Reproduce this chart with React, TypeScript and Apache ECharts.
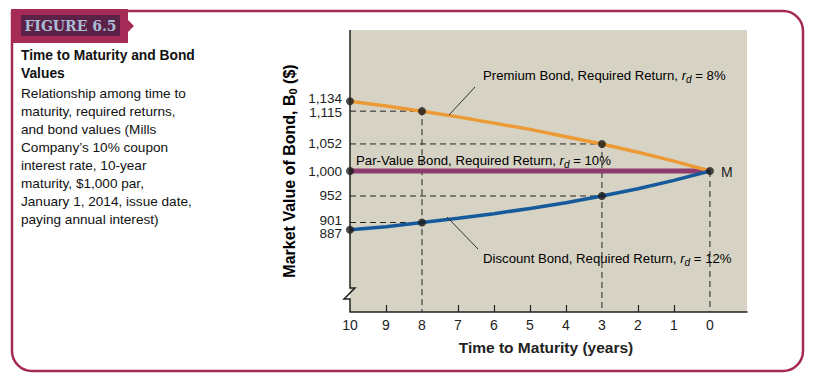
import React, { useEffect, useRef } from "react";
import * as echarts from "echarts";

// ---- data ----
const years = [10, 9, 8, 7, 6, 5, 4, 3, 2, 1, 0];
const premiumValues = [1134, 1125, 1115, 1104, 1092, 1080, 1066, 1052, 1036, 1019, 1000];
const parValues = [1000, 1000, 1000, 1000, 1000, 1000, 1000, 1000, 1000, 1000, 1000];
const discountValues = [887, 893, 901, 909, 918, 928, 939, 952, 966, 982, 1000];
const yTickLabelsA = [901, 952, 1000, 1052, 1115];
const yTickLabelsB = [887, 1134];
const xTickLabels = [10, 9, 8, 7, 6, 5, 4, 3, 2, 1, 0];
const markedYears = [8, 3];
const Y_MIN = 729;
const Y_MAX = 1271;

const SANS = "'Liberation Sans', Arial, sans-serif";
const DARK = "#222";
const FRAME = "#a52a55";

const at = (arr: number[], yr: number) => arr[years.indexOf(yr)];

// small vertical nudges (px) for tightly packed tick labels: positive = up
const labelNudge: Record<number, number> = { 1134: 3, 1115: -1, 901: 2.5, 887: -4 };

export default function App() {
  const ref = useRef<HTMLDivElement>(null);
  useEffect(() => {
    const chart = echarts.init(ref.current!, null, { renderer: "svg" });

    const guides: any[] = [];
    markedYears.forEach((yr) => {
      guides.push([[10, at(premiumValues, yr)], [yr, at(premiumValues, yr)], [yr, Y_MIN]]);
      guides.push([[10, at(discountValues, yr)], [yr, at(discountValues, yr)]]);
    });
    guides.push([[0, at(parValues, 0)], [0, Y_MIN]]);

    const dots: number[][] = [];
    [10, ...markedYears].forEach((yr) => {
      dots.push([yr, at(premiumValues, yr)]);
      dots.push([yr, at(discountValues, yr)]);
    });
    dots.push([10, at(parValues, 10)]);
    dots.push([0, at(parValues, 0)]);

    const guideSeries = guides.map((g) => ({
      type: "line",
      data: g,
      symbol: "none",
      silent: true,
      z: 1,
      lineStyle: { color: DARK, width: 1, type: [6, 4] },
    }));

    const rdRich = {
      n: { fontFamily: SANS, fontSize: 13.2, color: DARK, lineHeight: 18 },
      i: { fontFamily: SANS, fontSize: 13.2, color: DARK, fontStyle: "italic", lineHeight: 18 },
      s: { fontFamily: SANS, fontSize: 10, color: DARK, fontStyle: "italic", lineHeight: 10, verticalAlign: "bottom" },
    };

    const tickBase = { fontFamily: SANS, fontSize: 13.5, color: DARK, lineHeight: 13 };
    const tickRich: any = { n: { ...tickBase } };
    Object.keys(labelNudge).forEach((k) => {
      const d = labelNudge[+k];
      tickRich["v" + k] = {
        ...tickBase,
        padding: d > 0 ? [0, 0, 2 * d, 0] : [-2 * d, 0, 0, 0],
      };
    });

    const yLabel = (vals: number[]) => ({
      customValues: vals,
      hideOverlap: false,
      margin: 8,
      fontFamily: SANS,
      fontSize: 13.5,
      color: DARK,
      rich: tickRich,
      formatter: (v: number) => {
        const s = v.toLocaleString("en-US");
        return labelNudge[v] !== undefined ? `{v${v}|${s}}` : `{n|${s}}`;
      },
    });

    const option: any = {
      animation: false,
      backgroundColor: "#fff",
      grid: {
        left: 350,
        top: 30,
        width: 397,
        height: 282,
        show: true,
        backgroundColor: "#d6d3c4",
        borderWidth: 0,
      },
      xAxis: {
        type: "value",
        inverse: true,
        min: -1.03,
        max: 10,
        splitLine: { show: false },
        axisLine: { show: true, onZero: false, lineStyle: { color: DARK, width: 1.5 } },
        axisTick: {
          show: true,
          inside: true,
          length: 7,
          customValues: [1, 2, 4, 5, 6, 7, 9],
          lineStyle: { color: DARK, width: 1.2 },
        },
        axisLabel: {
          customValues: xTickLabels,
          margin: 6,
          fontFamily: SANS,
          fontSize: 14,
          color: DARK,
        },
      },
      yAxis: [
        {
          type: "value",
          min: Y_MIN,
          max: Y_MAX,
          position: "left",
          splitLine: { show: false },
          axisLine: { show: false },
          axisTick: { show: false },
          axisLabel: yLabel(yTickLabelsA),
        },
        {
          type: "value",
          min: Y_MIN,
          max: Y_MAX,
          position: "left",
          offset: 0,
          splitLine: { show: false },
          axisLine: { show: false },
          axisTick: { show: false },
          axisLabel: yLabel(yTickLabelsB),
        },
      ],
      series: [
        ...guideSeries,
        {
          type: "line",
          name: "Par",
          data: years.map((y, i) => [y, parValues[i]]),
          symbol: "none",
          z: 3,
          lineStyle: { color: "#8e3c70", width: 5 },
        },
        {
          type: "line",
          name: "Premium",
          data: years.map((y, i) => [y, premiumValues[i]]),
          symbol: "none",
          z: 3,
          lineStyle: { color: "#ec9a35", width: 3.5 },
        },
        {
          type: "line",
          name: "Discount",
          data: years.map((y, i) => [y, discountValues[i]]),
          symbol: "none",
          z: 3,
          lineStyle: { color: "#175a9c", width: 3.5 },
        },
        {
          type: "scatter",
          data: dots,
          symbolSize: 8,
          z: 5,
          itemStyle: { color: "#1a1a1a" },
        },
      ],
      graphic: [
        // frame
        {
          type: "rect",
          z: 100,
          shape: { x: 12, y: 11, width: 791, height: 360, r: [0, 20, 20, 20] },
          style: { fill: "none", stroke: FRAME, lineWidth: 2.5 },
        },
        {
          type: "rect",
          z: 101,
          shape: { x: 11, y: 9, width: 117, height: 34 },
          style: { fill: FRAME },
        },
        {
          type: "polygon",
          z: 101,
          shape: { points: [[128, 20], [134, 26], [128, 32]] },
          style: { fill: FRAME },
        },
        {
          type: "rect",
          z: 102,
          shape: { x: 21, y: 15, width: 99, height: 21 },
          style: { fill: "#5b2147" },
        },
        {
          type: "text",
          z: 103,
          x: 70.5,
          y: 26,
          style: {
            text: "FIGURE 6.5",
            fill: "#a9bdd6",
            font: "bold 14px 'DejaVu Serif', serif",
            align: "center",
            verticalAlign: "middle",
          },
        },
        // left description
        {
          type: "text",
          z: 100,
          x: 21,
          y: 46,
          style: {
            text: "Time to Maturity and Bond\nValues",
            fill: "#111",
            font: `bold 13.8px ${SANS}`,
            lineHeight: 18,
            align: "left",
            verticalAlign: "top",
          },
        },
        {
          type: "text",
          z: 100,
          x: 21,
          y: 84,
          style: {
            text:
              "Relationship among time to\nmaturity, required returns,\nand bond values (Mills\nCompany’s 10% coupon\ninterest rate, 10-year\nmaturity, $1,000 par,\nJanuary 1, 2014, issue date,\npaying annual interest)",
            fill: "#111",
            font: `13.6px ${SANS}`,
            lineHeight: 18,
            align: "left",
            verticalAlign: "top",
          },
        },
        // y axis line with break
        {
          type: "polyline",
          z: 50,
          shape: {
            points: [[350, 30], [350, 288], [355, 288], [344, 299], [350, 299], [350, 312]],
          },
          style: { stroke: DARK, lineWidth: 1.5, fill: "none" },
        },
        // y-axis title
        {
          type: "text",
          z: 100,
          x: 289,
          y: 171,
          rotation: Math.PI / 2,
          style: {
            text: "{b|Market Value of Bond, B}{s|0}{b| ($)}",
            align: "center",
            verticalAlign: "middle",
            rich: {
              b: { fontFamily: SANS, fontWeight: "bold", fontSize: 16, color: DARK, lineHeight: 18 },
              s: { fontFamily: SANS, fontWeight: "bold", fontSize: 11, color: DARK, lineHeight: 10, verticalAlign: "bottom" },
            },
          },
        },
        // x-axis title
        {
          type: "text",
          z: 100,
          x: 546,
          y: 347,
          style: {
            text: "Time to Maturity (years)",
            fill: DARK,
            font: `bold 15.5px ${SANS}`,
            align: "center",
            verticalAlign: "middle",
          },
        },
        // annotations
        {
          type: "text",
          z: 100,
          x: 483,
          y: 75,
          style: {
            text: "{n|Premium Bond, Required Return, }{i|r}{s|d}{n| = 8%}",
            align: "left",
            verticalAlign: "middle",
            rich: rdRich,
          },
        },
        {
          type: "line",
          z: 100,
          shape: { x1: 475, y1: 87, x2: 449, y2: 115 },
          style: { stroke: "#333", lineWidth: 1 },
        },
        {
          type: "text",
          z: 100,
          x: 356,
          y: 160,
          style: {
            text: "{n|Par-Value Bond, Required Return, }{i|r}{s|d}{n| = 10%}",
            align: "left",
            verticalAlign: "middle",
            rich: rdRich,
          },
        },
        {
          type: "text",
          z: 100,
          x: 483,
          y: 258,
          style: {
            text: "{n|Discount Bond, Required Return, }{i|r}{s|d}{n| = 12%}",
            align: "left",
            verticalAlign: "middle",
            rich: rdRich,
          },
        },
        {
          type: "line",
          z: 100,
          shape: { x1: 478, y1: 249, x2: 447, y2: 217 },
          style: { stroke: "#333", lineWidth: 1 },
        },
        {
          type: "text",
          z: 100,
          x: 721,
          y: 172,
          style: {
            text: "M",
            fill: DARK,
            font: `14px ${SANS}`,
            align: "left",
            verticalAlign: "middle",
          },
        },
      ],
    };
    chart.setOption(option);
    return () => chart.dispose();
  }, []);
  return (
    <div
      ref={ref}
      style={{ position: "absolute", left: 0, top: 0, width: 814, height: 388 }}
    />
  );
}
